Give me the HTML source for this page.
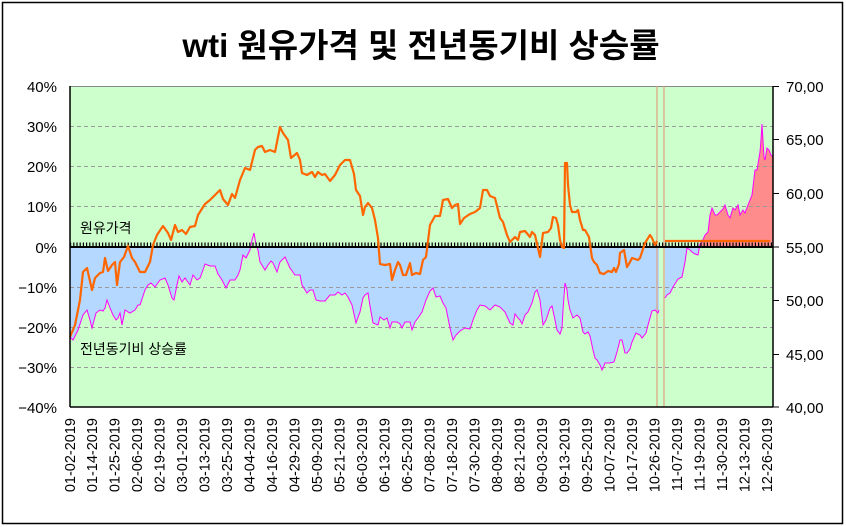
<!DOCTYPE html>
<html><head><meta charset="utf-8"><style>
html,body{margin:0;padding:0;background:#fff}
svg{display:block}
text{font-family:"Liberation Sans","Noto Sans CJK KR",sans-serif}
</style></head><body>
<svg width="846" height="527" viewBox="0 0 846 527" xmlns="http://www.w3.org/2000/svg">
<rect x="0" y="0" width="846" height="527" fill="#fff"/>
<rect x="2.5" y="2.5" width="840" height="521" fill="none" stroke="#000" stroke-width="1.5"/>
<text x="421" y="57" text-anchor="middle" font-size="33" font-weight="bold" fill="#000">wti 원유가격 및 전년동기비 상승률</text>
<defs>
<clipPath id="below"><rect x="70" y="247" width="703" height="160"/></clipPath>
<clipPath id="above"><rect x="70" y="86" width="703" height="161"/></clipPath>
</defs>
<rect x="70" y="86" width="703" height="321" fill="#ccffcc"/>
<g id="magfill">
<polygon clip-path="url(#below)" fill="#b4d8ff" points="70,247 70,337 73,340 78,330 83,315 87,310 90,320 92,328 96,313 100,310 103,311 105,308 107,300 110,308 113,315 116,320 118,318 120,313 122,325 125,310 128,312 130,313 135,310 138,305 140,305 145,290 148,285 151,283 155,287 160,280 165,278 168,285 172,298 174,300 177,285 179,276 182,282 185,278 190,285 193,275 197,280 200,278 203,270 205,264 210,266 215,266 218,274 222,280 226,288 230,280 235,280 238,275 240,270 243,255 246,258 250,250 252,240 254,233 256,245 258,250 260,262 265,270 268,265 271,261 273,263 277,272 280,262 285,257 290,268 295,275 300,275 302,285 307,293 310,290 313,290 316,300 320,301 325,301 330,295 335,295 338,292 342,295 345,293 348,297 352,305 356,323 360,312 363,298 365,295 368,293 370,306 373,323 378,325 380,317 384,320 387,318 390,328 392,322 397,322 400,324 402,328 405,322 410,322 412,330 415,322 418,318 422,312 426,300 430,291 433,288 436,297 440,296 443,303 446,308 450,328 453,340 456,335 460,331 465,328 470,329 473,320 477,310 480,305 485,306 490,310 495,305 500,307 505,312 510,323 513,325 515,314 518,318 520,320 522,324 525,315 528,312 532,303 535,292 537,290 540,300 543,325 546,320 550,308 552,306 555,320 557,330 560,334 562,328 563,310 565,283 567,290 568,300 570,310 573,318 577,315 580,318 583,332 585,334 588,332 590,336 593,350 595,358 597,360 600,365 602,370 603,368 605,363 610,363 614,362 617,352 620,340 622,340 625,353 627,353 630,349 632,342 636,333 640,335 642,338 646,333 648,325 652,311 655,310 658,313 659,310 659,247"/>
<polygon clip-path="url(#below)" fill="#b4d8ff" points="665,247 665,298 667,295 670,293 673,287 678,279 682,277 685,262 687,248 690,250 692,252 695,254 698,255 700,244 702,242 705,235 708,232 710,247"/>
<polygon clip-path="url(#above)" fill="#ff8c8c" points="698,247 700,244 702,242 705,235 708,232 710,215 712,208 715,215 717,215 720,212 723,209 725,205 728,215 730,218 733,208 735,210 738,205 740,215 743,210 745,213 748,205 752,195 755,170 757,170 760,152 761,140 762,124 764,157 765,160 767,148 769,150 771,155 773,157 773,247"/>
</g>
<g stroke="#999" stroke-width="1" stroke-dasharray="4 3" fill="none">
<line x1="70" y1="126.5" x2="773" y2="126.5"/><line x1="70" y1="166.5" x2="773" y2="166.5"/><line x1="70" y1="206.5" x2="773" y2="206.5"/>
<line x1="70" y1="287.5" x2="773" y2="287.5"/><line x1="70" y1="327.5" x2="773" y2="327.5"/><line x1="70" y1="367.5" x2="773" y2="367.5"/>
</g>
<line x1="70" y1="86.5" x2="773" y2="86.5" stroke="#888" stroke-width="1"/>
<line x1="657" y1="86" x2="657" y2="407" stroke="#e0a080" stroke-width="1.2"/>
<line x1="664" y1="86" x2="664" y2="407" stroke="#e0a080" stroke-width="1.2"/>
<polyline fill="none" stroke="#ff00ff" stroke-width="1" points="70,337 73,340 78,330 83,315 87,310 90,320 92,328 96,313 100,310 103,311 105,308 107,300 110,308 113,315 116,320 118,318 120,313 122,325 125,310 128,312 130,313 135,310 138,305 140,305 145,290 148,285 151,283 155,287 160,280 165,278 168,285 172,298 174,300 177,285 179,276 182,282 185,278 190,285 193,275 197,280 200,278 203,270 205,264 210,266 215,266 218,274 222,280 226,288 230,280 235,280 238,275 240,270 243,255 246,258 250,250 252,240 254,233 256,245 258,250 260,262 265,270 268,265 271,261 273,263 277,272 280,262 285,257 290,268 295,275 300,275 302,285 307,293 310,290 313,290 316,300 320,301 325,301 330,295 335,295 338,292 342,295 345,293 348,297 352,305 356,323 360,312 363,298 365,295 368,293 370,306 373,323 378,325 380,317 384,320 387,318 390,328 392,322 397,322 400,324 402,328 405,322 410,322 412,330 415,322 418,318 422,312 426,300 430,291 433,288 436,297 440,296 443,303 446,308 450,328 453,340 456,335 460,331 465,328 470,329 473,320 477,310 480,305 485,306 490,310 495,305 500,307 505,312 510,323 513,325 515,314 518,318 520,320 522,324 525,315 528,312 532,303 535,292 537,290 540,300 543,325 546,320 550,308 552,306 555,320 557,330 560,334 562,328 563,310 565,283 567,290 568,300 570,310 573,318 577,315 580,318 583,332 585,334 588,332 590,336 593,350 595,358 597,360 600,365 602,370 603,368 605,363 610,363 614,362 617,352 620,340 622,340 625,353 627,353 630,349 632,342 636,333 640,335 642,338 646,333 648,325 652,311 655,310 658,313 659,310"/>
<polyline fill="none" stroke="#ff00ff" stroke-width="1" points="665,298 667,295 670,293 673,287 678,279 682,277 685,262 687,248 690,250 692,252 695,254 698,255 700,244 702,242 705,235 708,232 710,215 712,208 715,215 717,215 720,212 723,209 725,205 728,215 730,218 733,208 735,210 738,205 740,215 743,210 745,213 748,205 752,195 755,170 757,170 760,152 761,140 762,124 764,157 765,160 767,148 769,150 771,155 773,157"/>
<line x1="70" y1="244.5" x2="773" y2="244.5" stroke="#000" stroke-width="4" stroke-dasharray="1.2 2"/>
<line x1="70" y1="247" x2="773" y2="247" stroke="#000" stroke-width="2"/>
<polyline fill="none" stroke="#ff6600" stroke-width="2.2" stroke-linejoin="round" points="70,337 75,325 80,300 83,272 87,268 92,290 95,278 100,273 103,272 105,258 108,271 112,265 115,262 117,285 120,262 124,257 128,246 132,258 135,262 140,272 145,272 150,262 153,245 157,235 163,226 168,233 171,240 175,225 178,232 182,230 186,234 190,227 195,226 198,215 205,204 210,200 215,195 220,190 223,199 228,205 232,194 235,198 240,180 245,168 250,170 255,150 258,147 262,146 265,152 270,150 275,152 280,127 283,133 288,140 291,158 297,153 300,160 302,173 307,175 312,172 315,177 318,172 322,175 325,174 330,181 335,175 340,165 345,160 350,160 354,174 356,190 360,196 363,215 365,207 368,203 372,208 375,220 378,238 380,264 385,265 390,264 392,280 395,270 398,262 400,265 403,275 406,275 410,263 412,275 416,273 420,274 423,260 426,257 430,225 435,216 440,216 443,200 448,199 452,208 455,205 458,204 460,224 464,218 470,214 475,212 480,208 483,190 487,190 490,196 495,198 500,218 503,222 507,235 510,242 515,237 518,240 520,232 525,231 530,237 532,232 535,235 540,257 543,233 548,232 551,228 553,217 556,218 558,225 560,240 562,247 564,248 565,163 567,163 568,185 570,205 572,212 576,212 578,210 580,220 583,230 585,230 589,237 592,258 594,262 597,265 600,273 604,274 608,271 612,272 614,268 616,272 619,264 620,253 624,250 627,267 630,262 632,258 635,259 638,260 640,258 642,252 645,243 650,235 652,238 655,245 657,241"/>
<line x1="665" y1="241" x2="770" y2="241" stroke="#ff6600" stroke-width="2.2"/>
<line x1="70" y1="86" x2="70" y2="407" stroke="#000" stroke-width="1.5"/>
<line x1="70" y1="407" x2="773" y2="407" stroke="#000" stroke-width="1.5"/>
<line x1="773" y1="86" x2="773" y2="407" stroke="#000" stroke-width="1.5"/>
<g stroke="#000" stroke-width="1">
<line x1="773" y1="86.5" x2="779" y2="86.5"/><line x1="773" y1="139.5" x2="779" y2="139.5"/><line x1="773" y1="193.5" x2="779" y2="193.5"/><line x1="773" y1="247" x2="779" y2="247"/><line x1="773" y1="300.5" x2="779" y2="300.5"/><line x1="773" y1="354.5" x2="779" y2="354.5"/><line x1="773" y1="407" x2="779" y2="407"/>
</g>
<g font-size="15" fill="#000" text-anchor="end">
<text x="57" y="92">40%</text><text x="57" y="132">30%</text><text x="57" y="172">20%</text><text x="57" y="212">10%</text><text x="57" y="253">0%</text><text x="57" y="293">−10%</text><text x="57" y="333">−20%</text><text x="57" y="373">−30%</text><text x="57" y="413">−40%</text>
</g>
<g font-size="15" fill="#000">
<text x="786" y="92">70,00</text><text x="786" y="145">65,00</text><text x="786" y="199">60,00</text><text x="786" y="253">55,00</text><text x="786" y="306">50,00</text><text x="786" y="360">45,00</text><text x="786" y="413">40,00</text>
</g>
<text x="80" y="233" font-size="14" fill="#000">원유가격</text>
<text x="80" y="354" font-size="14" fill="#000">전년동기비 상승률</text>
<g font-size="14.5" fill="#000" text-anchor="end">
<text transform="translate(75,418) rotate(-90)">01-02-2019</text>
<text transform="translate(97,418) rotate(-90)">01-14-2019</text>
<text transform="translate(119.5,418) rotate(-90)">01-25-2019</text>
<text transform="translate(142,418) rotate(-90)">02-06-2019</text>
<text transform="translate(164.5,418) rotate(-90)">02-19-2019</text>
<text transform="translate(187,418) rotate(-90)">03-01-2019</text>
<text transform="translate(209.5,418) rotate(-90)">03-13-2019</text>
<text transform="translate(232,418) rotate(-90)">03-25-2019</text>
<text transform="translate(254.5,418) rotate(-90)">04-04-2019</text>
<text transform="translate(277,418) rotate(-90)">04-16-2019</text>
<text transform="translate(299.5,418) rotate(-90)">04-29-2019</text>
<text transform="translate(322,418) rotate(-90)">05-09-2019</text>
<text transform="translate(344.5,418) rotate(-90)">05-21-2019</text>
<text transform="translate(367,418) rotate(-90)">06-03-2019</text>
<text transform="translate(389.5,418) rotate(-90)">06-13-2019</text>
<text transform="translate(412,418) rotate(-90)">06-25-2019</text>
<text transform="translate(434.5,418) rotate(-90)">07-08-2019</text>
<text transform="translate(457,418) rotate(-90)">07-18-2019</text>
<text transform="translate(479.5,418) rotate(-90)">07-30-2019</text>
<text transform="translate(502,418) rotate(-90)">08-09-2019</text>
<text transform="translate(524.5,418) rotate(-90)">08-21-2019</text>
<text transform="translate(547,418) rotate(-90)">09-03-2019</text>
<text transform="translate(569.5,418) rotate(-90)">09-13-2019</text>
<text transform="translate(592,418) rotate(-90)">09-25-2019</text>
<text transform="translate(614.5,418) rotate(-90)">10-07-2019</text>
<text transform="translate(637,418) rotate(-90)">10-17-2019</text>
<text transform="translate(659.5,418) rotate(-90)">10-26-2019</text>
<text transform="translate(682,418) rotate(-90)">11-07-2019</text>
<text transform="translate(704.5,418) rotate(-90)">11-19-2019</text>
<text transform="translate(727,418) rotate(-90)">11-30-2019</text>
<text transform="translate(749.5,418) rotate(-90)">12-13-2019</text>
<text transform="translate(772,418) rotate(-90)">12-26-2019</text>
</g>
</svg>
</body></html>
